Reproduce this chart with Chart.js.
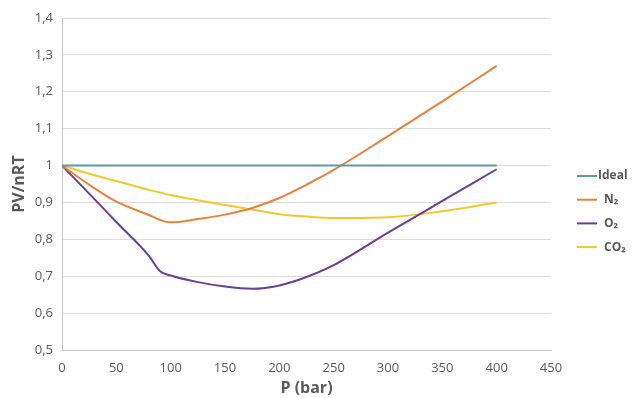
<!DOCTYPE html>
<html>
<head>
<meta charset="utf-8">
<style>
  body { margin: 0; background: #fff; }
  #wrap { width: 640px; height: 398px; }
</style>
<script src="https://cdn.jsdelivr.net/npm/chart.js@4/dist/chart.umd.min.js"></script>
</head>
<body>
<div id="wrap"><canvas id="grafico" width="640" height="398"></canvas></div>
<script>
// pressao (bar) e fator de compressibilidade
const pressao = [0, 25, 50, 80, 90, 100, 125, 150, 175, 200, 225, 250, 300, 350, 400];
const ideal = [1, 1, 1, 1, 1, 1, 1, 1, 1, 1, 1, 1, 1, 1, 1];
const n2 = [1.0, 0.948, 0.902, 0.866, 0.853, 0.846, 0.855, 0.867, 0.885, 0.912, 0.948, 0.988, 1.08, 1.174, 1.27];
const o2 = [1.0, 0.924, 0.847, 0.755, 0.714, 0.702, 0.684, 0.672, 0.666, 0.675, 0.698, 0.73, 0.818, 0.904, 0.99];
const co2 = [1.0, 0.978, 0.958, 0.934, 0.927, 0.92, 0.906, 0.893, 0.881, 0.868, 0.862, 0.858, 0.86, 0.876, 0.90];

const nomesSeries = ['Ideal', 'N\u2082', 'O\u2082', 'CO\u2082'];
const cores = ['#5b9aa9', '#e8823a', '#6a3f96', '#f3c82c'];

const yTickLabels = ['0,5', '0,6', '0,7', '0,8', '0,9', '1', '1,1', '1,2', '1,3', '1,4'];
const xTickLabels = ['0', '50', '100', '150', '200', '250', '300', '350', '400', '450'];

const cinza = '#595959';
const fonte = "'Open Sans', sans-serif";

function pontos(valores) {
    return pressao.map((p, i) => ({ x: p, y: valores[i] }));
}

// legenda desenhada a direita, como no Excel
const legendaDireita = {
    id: 'legendaDireita',
    afterDraw(chart) {
        const ctx = chart.ctx;
        ctx.save();
        chart.data.datasets.forEach((ds, i) => {
            const y = 176 + i * 23.7;
            ctx.strokeStyle = ds.borderColor;
            ctx.lineWidth = 2;
            ctx.beginPath();
            ctx.moveTo(577, y);
            ctx.lineTo(597, y);
            ctx.stroke();
            ctx.fillStyle = cinza;
            ctx.font = 'bold 12px ' + fonte;
            ctx.textBaseline = 'middle';
            ctx.fillText(ds.label, i === 0 ? 598 : 604, y);
        });
        ctx.restore();
    }
};

const datasets = [ideal, n2, o2, co2].map((valores, i) => ({
    label: nomesSeries[i],
    data: pontos(valores),
    borderColor: cores[i],
    backgroundColor: cores[i],
    borderWidth: 2,
    pointRadius: 0,
    fill: false,
    cubicInterpolationMode: 'monotone'
}));

new Chart(document.getElementById('grafico'), {
    type: 'line',
    data: { datasets: datasets },
    plugins: [legendaDireita],
    options: {
        responsive: false,
        animation: false,
        layout: { padding: { top: 18, right: 89, left: 0, bottom: 0 } },
        plugins: {
            legend: { display: false },
            tooltip: { enabled: false }
        },
        scales: {
            x: {
                type: 'linear',
                min: 0,
                max: 450,
                ticks: {
                    stepSize: 50,
                    color: cinza,
                    font: { family: fonte, size: 13 },
                    padding: 10,
                    maxRotation: 0,
                    callback: function(value, index) {
                        return xTickLabels[index];
                    }
                },
                grid: { display: false, drawTicks: false },
                border: { display: true, color: '#c8c8c8' },
                title: {
                    display: true,
                    text: 'P (bar)',
                    color: cinza,
                    font: { family: fonte, size: 16, weight: 'bold' },
                    padding: { top: 0, bottom: 0 }
                },
                afterFit: function(scale) { scale.height = 48; }
            },
            y: {
                min: 0.5,
                max: 1.4,
                ticks: {
                    stepSize: 0.1,
                    color: cinza,
                    font: { family: fonte, size: 13 },
                    padding: 9,
                    callback: function(value, index) {
                        return yTickLabels[index];
                    }
                },
                grid: { color: '#dcdcdc', drawTicks: false },
                border: { display: true, color: '#c8c8c8' },
                title: {
                    display: true,
                    text: 'PV/nRT',
                    color: cinza,
                    font: { family: fonte, size: 16, weight: 'bold' },
                    padding: { top: 10, bottom: 0 }
                },
                afterFit: function(scale) { scale.width = 62; }
            }
        }
    }
});
</script>
</body>
</html>
